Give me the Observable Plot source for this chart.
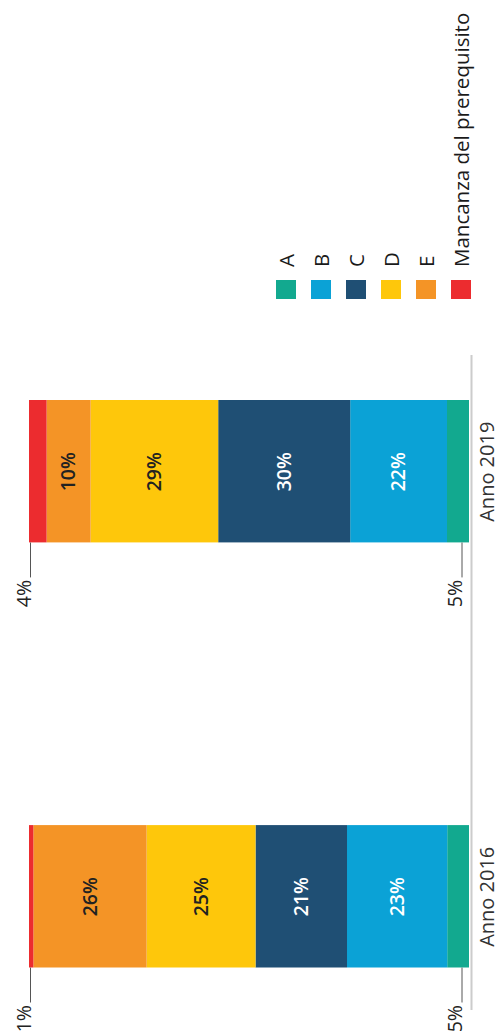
<!DOCTYPE html>
<html><head><meta charset="utf-8">
<script src="https://cdn.jsdelivr.net/npm/d3@7"></script>
<script src="https://cdn.jsdelivr.net/npm/@observablehq/plot@0.6"></script>
<style>
body{margin:0;background:#fff;overflow:hidden}
#wrap{position:relative;width:500px;height:1034px;font-family:"Open Sans",sans-serif}
#wrap svg{position:absolute;left:0;top:0}
.sw{position:absolute;width:20px;height:19px}
.lb{position:absolute;white-space:nowrap;font-size:20.5px;line-height:1;color:#1a1a1a;transform-origin:0 0;transform:rotate(-90deg) translateY(-50%)}
</style></head><body><div id="wrap"></div>
<script>
const years = ["Anno 2019", "Anno 2016"];
const categories = ["A", "B", "C", "D", "E", "Mancanza del prerequisito"];
const colors = ["#12a98f", "#0ba2d6", "#1f4f74", "#fec70b", "#f49426", "#ec2c2f"];
const values2016 = [5, 23, 21, 25, 26, 1];
const values2019 = [5, 22, 30, 29, 10, 4];
const lightText = ["B", "C"];

const rows = [];
categories.forEach((c, i) => {
  rows.push({year: "Anno 2016", cat: c, value: values2016[i]});
  rows.push({year: "Anno 2019", cat: c, value: values2019[i]});
});

const first = categories[0], last = categories[categories.length - 1];
const bw = 142.5, tickLen = 35;
const stack = (o) => ({x: "value", y: "year", z: "cat", order: categories, offset: "normalize", ...o});

const chart = Plot.plot({
  width: 500, height: 1034,
  marginTop: 355, marginBottom: 24, marginLeft: 29, marginRight: 31,
  style: {fontFamily: "Open Sans, sans-serif", background: "white"},
  x: {domain: [0, 1], reverse: true, axis: null},
  y: {type: "band", domain: years, range: [400, 967.5], paddingInner: 0.665, paddingOuter: 0, round: false, axis: null},
  color: {domain: categories, range: colors},
  marks: [
    Plot.ruleX([0], {stroke: "#cccccc", strokeWidth: 2, dx: 2}),
    Plot.barX(rows, Plot.stackX(stack({fill: "cat"}))),
    Plot.text(rows, Plot.stackX(stack({
      text: d => d.value >= 10 ? d.value + "%" : null,
      fill: d => lightText.includes(d.cat) ? "white" : "#222",
      rotate: -90, fontSize: 19.5, fontWeight: 600
    }))),
    Plot.tickX(rows, Plot.stackX2(stack({
      stroke: d => d.cat === last ? "#555" : "transparent",
      insetTop: bw - tickLen, dy: tickLen, dx: 1
    }))),
    Plot.tickX(rows, Plot.stackX1(stack({
      stroke: d => d.cat === first ? "#555" : "transparent",
      insetTop: bw - tickLen, dy: tickLen, dx: -7.5
    }))),
    Plot.text(rows, Plot.stackX2(stack({
      text: d => d.cat === last ? d.value + "%" : null,
      rotate: -90, textAnchor: "end", lineAnchor: "bottom",
      dy: bw / 2 + tickLen + 2, dx: 1.5, fontSize: 19.5, fill: "#222"
    }))),
    Plot.text(rows, Plot.stackX1(stack({
      text: d => d.cat === first ? d.value + "%" : null,
      rotate: -90, textAnchor: "end", lineAnchor: "bottom",
      dy: bw / 2 + tickLen + 2, dx: -7.5, fontSize: 19.5, fill: "#222"
    }))),
    Plot.text(years, {
      y: d => d, text: d => d, frameAnchor: "right", dx: 10.5,
      rotate: -90, textAnchor: "middle", lineAnchor: "top", fontSize: 20, fill: "#333"
    })
  ]
});

const wrap = document.getElementById("wrap");
wrap.appendChild(chart);
categories.forEach((c, i) => {
  const sw = document.createElement("div");
  sw.className = "sw";
  sw.style.left = (276 + 35 * i) + "px";
  sw.style.top = "280px";
  sw.style.background = colors[i];
  wrap.appendChild(sw);
  const lb = document.createElement("div");
  lb.className = "lb";
  lb.textContent = c;
  lb.style.left = (286 + 35 * i) + "px";
  lb.style.top = "267px";
  wrap.appendChild(lb);
});
</script></body></html>
